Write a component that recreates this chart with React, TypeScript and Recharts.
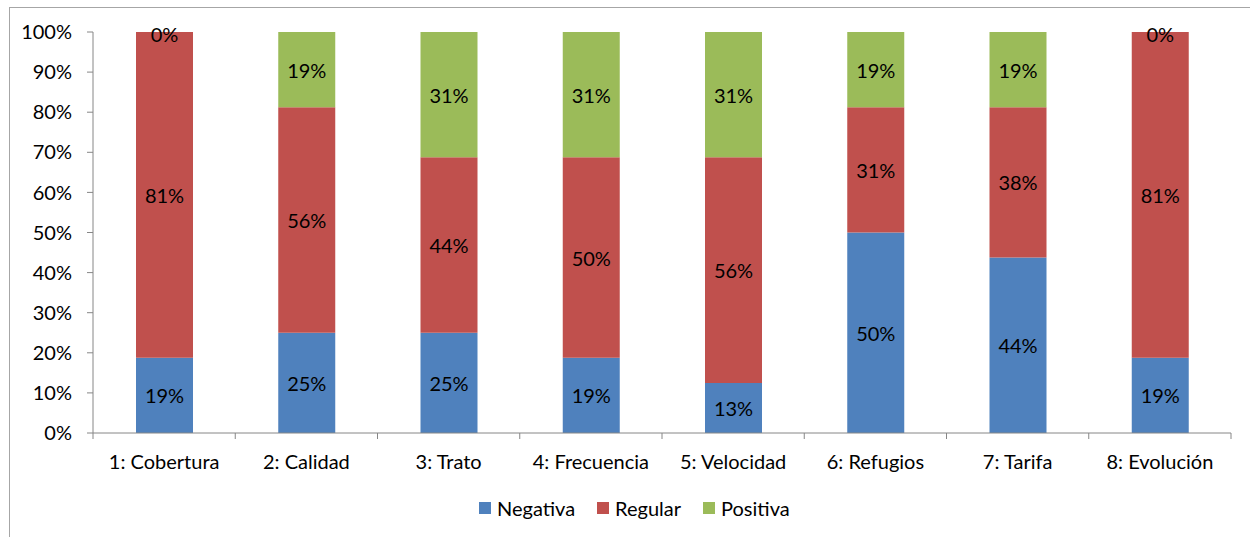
import { BarChart, Bar, XAxis, YAxis, Legend, LabelList } from 'recharts';

const categories = ['1: Cobertura', '2: Calidad', '3: Trato', '4: Frecuencia', '5: Velocidad', '6: Refugios', '7: Tarifa', '8: Evolución'];
const negativa = [18.75, 25, 25, 18.75, 12.5, 50, 43.75, 18.75];
const regular = [81.25, 56.25, 43.75, 50, 56.25, 31.25, 37.5, 81.25];
const positiva = [0, 18.75, 31.25, 31.25, 31.25, 18.75, 18.75, 0];
const yTicks = [0, 10, 20, 30, 40, 50, 60, 70, 80, 90, 100];

const series = [
    { key: 'negativa', name: 'Negativa', color: '#4F81BD' },
    { key: 'regular', name: 'Regular', color: '#C0504D' },
    { key: 'positiva', name: 'Positiva', color: '#9BBB59' },
];

const data = categories.map((c, i) => ({
    name: c,
    negativa: negativa[i],
    regular: regular[i],
    positiva: positiva[i],
}));

const FONT = 'Lato, "Noto Sans", sans-serif';
const FS = 20;
const AXIS = '#868686';
const W = 1250;
const H = 537;
const M = { top: 32, right: 19, left: 0, bottom: 0 };
const Y_W = 93;
const BAND = (W - M.right - Y_W) / categories.length;

function pct(v: number) {
    return Math.round(v) + '%';
}

function SegLabel(props: any) {
    const { x, y, width, height, value } = props;
    if (value == null || !value) return null;
    return (
        <text
            x={x + width / 2}
            y={y + height / 2}
            textAnchor="middle"
            dominantBaseline="central"
            fontFamily={FONT}
            fontSize={FS}
            fill="#000"
        >
            {pct(value)}
        </text>
    );
}

// label for an empty top segment, drawn at the top edge of the stack
function ZeroTopLabel(props: any) {
    const { x, y, width, value } = props;
    if (value !== 0) return null;
    return (
        <text
            x={x + width / 2}
            y={y + 2}
            textAnchor="middle"
            dominantBaseline="central"
            fontFamily={FONT}
            fontSize={FS}
            fill="#000"
        >
            {pct(value)}
        </text>
    );
}

function CatTick(props: any) {
    const { x, y, payload, index } = props;
    const half = BAND / 2;
    return (
        <g>
            <line x1={x - half} x2={x - half} y1={y} y2={y + 6} stroke={AXIS} />
            {index === categories.length - 1 && (
                <line x1={x + half} x2={x + half} y1={y} y2={y + 6} stroke={AXIS} />
            )}
            <text
                x={x}
                y={y + 28}
                textAnchor="middle"
                dominantBaseline="central"
                fontFamily={FONT}
                fontSize={FS}
                fill="#000"
            >
                {payload.value}
            </text>
        </g>
    );
}

function LegendBox() {
    return (
        <div style={{ display: 'flex', alignItems: 'center', fontFamily: FONT, fontSize: FS, color: '#000', lineHeight: '22px' }}>
            {series.map((s) => (
                <div key={s.key} style={{ display: 'flex', alignItems: 'center', marginRight: 22 }}>
                    <span style={{ width: 12, height: 12, background: s.color, display: 'inline-block', marginRight: 6 }} />
                    <span>{s.name}</span>
                </div>
            ))}
        </div>
    );
}

export default function App() {
    return (
        <div style={{ position: 'absolute', left: 0, top: 0, width: W, height: H, overflow: 'hidden', background: '#fff' }}>
            <div
                style={{
                    position: 'absolute',
                    left: 9,
                    top: 7,
                    width: 1400,
                    height: 700,
                    border: '1px solid #A6A6A6',
                }}
            />
            <div style={{ position: 'absolute', left: 0, top: 0 }}>
                <BarChart width={W} height={H} data={data} margin={M}>
                    <XAxis
                        dataKey="name"
                        height={82}
                        axisLine={{ stroke: AXIS }}
                        tickLine={false}
                        tickSize={0}
                        tickMargin={0}
                        interval={0}
                        tick={<CatTick />}
                    />
                    <YAxis
                        width={Y_W}
                        domain={[0, 100]}
                        ticks={yTicks}
                        tickFormatter={(v: number) => v + '%'}
                        axisLine={{ stroke: AXIS }}
                        tickLine={{ stroke: AXIS }}
                        tickSize={6}
                        tickMargin={15}
                        tick={{ fontFamily: FONT, fontSize: FS, fill: '#000' }}
                        interval={0}
                    />
                    <Legend
                        verticalAlign="bottom"
                        align="left"
                        content={<LegendBox />}
                        wrapperStyle={{ left: 479, bottom: 18, width: 'auto' }}
                    />
                    {series.map((s) => (
                        <Bar key={s.key} dataKey={s.key} name={s.name} stackId="a" fill={s.color} barSize={57} isAnimationActive={false}>
                            <LabelList dataKey={s.key} content={<SegLabel />} />
                            {s.key === 'regular' && <LabelList dataKey="positiva" content={<ZeroTopLabel />} />}
                        </Bar>
                    ))}
                </BarChart>
            </div>
        </div>
    );
}
